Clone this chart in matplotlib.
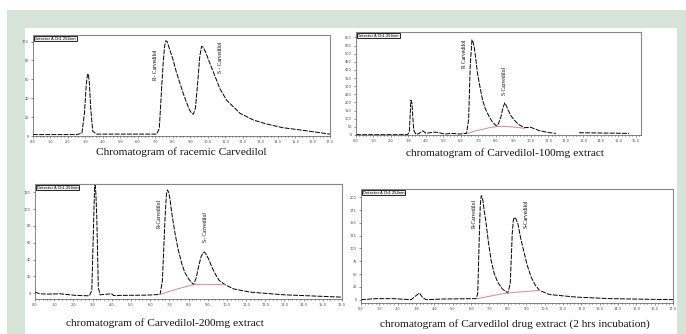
import numpy as np
import matplotlib
matplotlib.use("Agg")
import matplotlib.pyplot as plt
from matplotlib.patches import Rectangle
from matplotlib.ticker import AutoMinorLocator

# ---- data (time in min, detector signal) ----
t1 = [0.0, 2.5, 2.8, 2.95, 3.05, 3.12, 3.17, 3.23, 3.3, 3.42, 3.64, 7.08, 7.23, 7.36,
      7.46, 7.54, 7.61, 7.68, 7.8, 8.03, 8.2, 8.41, 8.6, 8.8, 8.95, 9.08, 9.18, 9.3,
      9.42, 9.55, 9.65, 9.75, 9.9, 10.1, 10.32, 10.7, 11.08, 11.85, 12.61, 13.37,
      14.3, 15.3, 17.0]
s1 = [1.5, 1.5, 3, 25, 55, 65, 66, 55, 30, 5, 2, 2, 8, 50,
      80, 96, 101, 100, 93, 80, 68, 56, 45, 35, 28, 24, 23, 30,
      55, 85, 95, 94, 88, 78, 68, 50, 38, 24, 17, 12.7,
      8.8, 6.4, 2]

t2 = [0.0, 2.95, 3.05, 3.14, 3.2, 3.3, 3.43, 3.62, 3.81, 4.0, 4.23, 4.48, 4.76, 5.05,
      5.52, 5.9, 6.32, 6.44, 6.53, 6.63, 6.7, 6.76, 6.85, 6.95, 7.1, 7.24, 7.4, 7.62,
      7.8, 8.04, 8.15, 8.29, 8.4, 8.51, 8.6, 8.7, 8.85, 9.05, 9.3, 9.62, 10.0, 10.48,
      11.0, 11.43, np.nan, 12.76, 15.62]
s2 = [2, 2, 20, 214, 194, 30, 4, 10, 26, 10, 14, 18, 14, 6,
      10, 6, 10, 92, 418, 585, 570, 540, 470, 377, 290, 214, 160, 112,
      80, 55, 70, 112, 165, 198, 180, 153, 120, 92, 65, 45, 47, 27,
      15, 10, np.nan, 14, 10]
bt2 = [6.38, 6.8, 7.24, 7.62, 8.04, 8.4, 8.76, 9.2, 9.62]
bs2 = [10, 24, 35, 45, 51, 53, 51, 47, 41]

t3 = [0.0, 0.26, 0.61, 1.3, 2.17, 2.83, 2.96, 3.04, 3.1, 3.13, 3.17, 3.22, 3.3, 3.39,
      4.0, 4.09, 5.83, 6.52, 6.64, 6.78, 6.85, 6.9, 6.97, 7.04, 7.15, 7.3, 7.45, 7.65,
      7.8, 8.0, 8.26, 8.4, 8.52, 8.65, 8.75, 8.82, 8.9, 9.04, 9.2, 9.39, 9.6, 9.91,
      10.35, 11.22, 12.96, 16.0]
s3 = [1.2, -0.8, -1.2, -0.8, -2.8, -3.2, 3.2, 71, 122, 129, 120, 91, 7, -2,
      -0.8, -2.8, -2.4, -1.6, 15, 91, 118, 123, 120, 111, 92, 71, 53, 35,
      25, 17, 10, 18, 31, 43, 48, 49, 47, 41, 32, 23, 15, 10,
      5, 1.2, -2, -4.8]
bt3 = [6.52, 7.0, 7.5, 8.0, 8.26, 8.8, 9.4, 9.91]
bs3 = [-1.6, 2.0, 5.5, 8.5, 10, 10.5, 10.3, 10]

t4 = [0.0, 0.82, 1.73, 2.73, 2.9, 3.18, 3.36, 3.55, 4.45, 6.27, 6.36, 6.45, 6.5, 6.55,
      6.6, 6.64, 6.72, 6.82, 6.95, 7.09, 7.25, 7.45, 7.7, 8.0, 8.13, 8.2, 8.24, 8.3,
      8.36, 8.45, 8.55, 8.7, 8.9, 9.05, 9.27, 9.5, 9.73, 10.27, 11.73, 13.55, 17.0]
s4 = [0, 2, 2, 0, 5, 13, 4, 0, 1.3, 2, 12, 128, 185, 203,
      200, 194, 172, 148, 110, 77, 52, 34, 21, 13, 31, 90, 129, 155,
      161, 157, 148, 120, 90, 68, 44, 28, 18, 10, 5, 2, 0]
bt4 = [6.36, 6.9, 7.5, 8.0, 8.6, 9.2, 9.73]
bs4 = [2, 6, 10, 13, 15, 16.5, 18]

titles = ["Chromatogram of racemic Carvedilol",
          "chromatogram of Carvedilol-100mg extract",
          "chromatogram of Carvedilol-200mg extract",
          "chromatogram of Carvedilol drug extract (2 hrs incubation)"]

# peak labels: (text, x, top y)
labels1 = [("R- Carvedilol", 7.0, 91), ("S - Carvedilol", 10.75, 100)]
labels2 = [("R Carvedilol", 6.23, 587), ("S Carvedilol", 8.51, 416)]
labels3 = [("R-Carvedilol", 6.47, 112), ("S- Carvedilol", 8.87, 97)]
labels4 = [("R-Carvedilol", 6.16, 196), ("S-Carvedilol", 9.0, 196)]

W, H = 686, 334
fig = plt.figure(figsize=(W / 100, H / 100), dpi=100)
fig.patch.set_facecolor("white")

# framed background
fig.patches.append(Rectangle((7 / W, 0), 1 - 7 / W, 1 - 10 / H, transform=fig.transFigure,
                             facecolor="#d6e3d9", edgecolor="none", zorder=-2))
fig.patches.append(Rectangle((25 / W, 0), (677 - 25) / W, 1 - 28 / H, transform=fig.transFigure,
                             facecolor="white", edgecolor="none", zorder=-1))


def px_axes(l, r, t, b):
    ax = fig.add_axes([l / W, 1 - b / H, (r - l) / W, (b - t) / H])
    ax.set_zorder(2)
    return ax


def chrom(ax, t, s, bt, bs, xlim, ylim, yticks, labels):
    ax.set_facecolor("none")
    ax.plot(t, s, color="black", lw=0.7, ls=(0, (5, 1.3)))
    if bt is not None:
        ax.plot(bt, bs, color="#d9898c", lw=0.7)
    ax.set_xlim(*xlim)
    ax.set_ylim(*ylim)
    ax.set_xticks(np.arange(0, int(xlim[1]) + 1))
    ax.set_xticklabels(["%.1f" % v for v in np.arange(0, int(xlim[1]) + 1)])
    ax.set_yticks(yticks)
    ax.xaxis.set_minor_locator(AutoMinorLocator(5))
    ax.tick_params(labelsize=2.5, length=1.5, width=0.4, pad=1.5, colors="#444444")
    ax.tick_params(which="minor", length=0.8, width=0.4)
    for side in ["top", "right"]:
        ax.spines[side].set_color("#888888")
        ax.spines[side].set_linewidth(0.8)
    for side in ["left", "bottom"]:
        ax.spines[side].set_color("#555555")
        ax.spines[side].set_linewidth(0.5)
    ax.text(0.005, 0.985, "Detector A Ch1 254nm", transform=ax.transAxes, fontsize=2.6,
            va="top", ha="left",
            bbox=dict(boxstyle="square,pad=0.2", fc="#f0f0f0", ec="black", lw=0.6))
    for txt, x, y in labels:
        ax.text(x, y, txt, rotation=90, fontsize=4, va="top", ha="center",
                family="Liberation Serif")


ax1 = px_axes(33, 330, 35, 136)
chrom(ax1, t1, s1, None, None, (0, 17), (0, 107), np.arange(0, 101, 20), labels1)

ax2 = px_axes(356, 641, 32, 135)
chrom(ax2, t2, s2, bt2, bs2, (0, 16.3), (0, 633), np.arange(0, 601, 50), labels2)

ax3 = px_axes(35, 342, 184, 299)
chrom(ax3, t3, s3, bt3, bs3, (0, 16), (-7, 130), np.arange(0, 121, 20), labels3)

ax4 = px_axes(361, 673, 189, 303)
chrom(ax4, t4, s4, bt4, bs4, (0, 17), (-6.5, 216), np.arange(0, 201, 25), labels4)

# captions under each chromatogram
caps = [(181, 152), (505, 153), (165, 323), (515, 324)]
for (cx, cy), title in zip(caps, titles):
    fig.text(cx / W, 1 - cy / H, title, ha="center", va="center", fontsize=8.2,
             family="Liberation Serif", color="#111111")

fig.savefig("out.png", dpi=100)
